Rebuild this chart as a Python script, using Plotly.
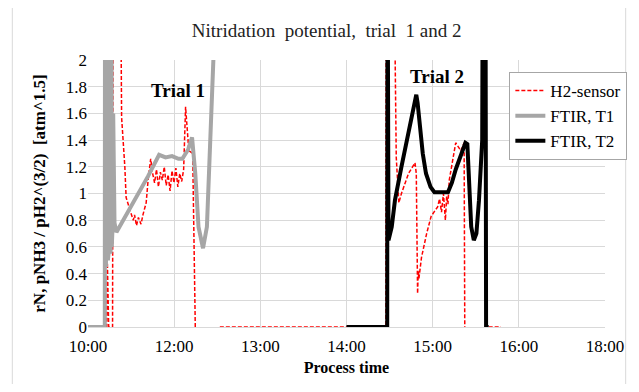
import plotly.graph_objects as go

# Time axis in hours (as placed on the chart's equal-spaced axis)
tick_hours = [10, 10 + 4/3, 10 + 8/3, 14, 10 + 16/3, 10 + 20/3, 18]
tick_labels = ["10:00", "12:00", "13:00", "14:00", "15:00", "16:00", "18:00"]

# H2-sensor (red dashed); values above 2 are off scale, None = gap
h2_x = [10.00, 10.29, 10.30, 10.32, 10.38, 10.39, 10.50, 10.52, 10.57, 10.59, 10.65,
        10.70, 10.72, 10.75, 10.78, 10.82, 10.85, 10.90, 10.93, 10.97, 11.00,
        11.03, 11.06, 11.09, 11.12, 11.15, 11.18, 11.21, 11.24, 11.27, 11.30,
        11.33, 11.36, 11.39, 11.42, 11.45, 11.48, 11.51, 11.56, 11.62, 11.66,
        11.67, 12.04, 14.61, 14.615, 14.73, 14.77, 14.81, 14.85, 14.96, 15.06,
        15.08, 15.10, 15.11, 15.12, 15.16, 15.24, 15.31, 15.41, 15.44, 15.47,
        15.50, 15.53, 15.55, 15.57, 15.59, 15.69, 15.77, 15.82, 15.83, 15.84,
        16.20, 16.39]
h2_y = [0.00, 0.00, 0.48, 0.00, 0.00, 3.00, 3.00, 1.57, 1.20, 0.97, 0.875,
        0.80, 0.84, 0.76, 0.82, 0.77, 0.84, 0.93, 1.10, 1.26, 1.15,
        1.08, 1.18, 1.05, 1.16, 1.10, 1.20, 1.06, 1.14, 1.02, 1.17,
        1.08, 1.19, 1.05, 1.15, 1.09, 1.18, 1.65, 1.32, 1.30, 0.00,
        None, 0.00, 0.00, 3.00, 3.00, 1.27, 0.93, 1.00, 1.15, 1.23,
        1.15, 0.25, 0.42, 0.36, 0.52, 0.70, 0.83, 0.90, 0.96, 0.86,
        1.00, 0.80, 0.98, 0.92, 1.10, 1.38, 1.32, 1.38, 0.00, None,
        0.00, 0.00]

# FTIR, trial 1 (grey)
t1_x = [10.00, 10.26, 10.263, 10.268, 10.273, 10.278, 10.283, 10.288, 10.293,
        10.298, 10.303, 10.308, 10.313, 10.318, 10.323, 10.328, 10.333, 10.338,
        10.343, 10.348, 10.353, 10.358, 10.363, 10.368, 10.373, 10.38, 10.39,
        10.41, 10.44, 10.70, 10.93, 11.10, 11.20, 11.30, 11.40, 11.46, 11.55,
        11.61, 11.66, 11.71, 11.78, 11.84, 11.89, 11.94, 11.97]
t1_y = [0.00, 0.00, 2.50, 0.50, 2.50, 0.45, 2.50, 0.55, 2.50, 0.60, 2.50,
        0.50, 2.50, 0.55, 2.50, 0.60, 2.50, 0.65, 2.50, 0.55, 2.50, 0.70,
        2.50, 0.60, 2.30, 0.75, 1.60, 0.78, 0.71, 0.93, 1.13, 1.29, 1.27,
        1.28, 1.26, 1.26, 1.33, 1.42, 1.15, 0.75, 0.59, 0.75, 1.33, 2.00, 2.50]

# FTIR, trial 2 (black)
t2_x = [14.00, 14.63, 14.635, 14.65, 14.70, 14.75, 14.85, 14.96, 15.03, 15.06,
        15.08, 15.10, 15.13, 15.18, 15.23, 15.30, 15.36, 15.45, 15.57, 15.63,
        15.69, 15.78, 15.84, 15.87, 15.90, 15.93, 15.97, 16.01, 16.05, 16.10,
        16.11, 16.12, 16.13, 16.14, 16.15, 16.16, 16.20]
t2_y = [0.00, 0.00, 3.00, 0.65, 0.75, 0.95, 1.20, 1.45, 1.62, 1.70, 1.74,
        1.68, 1.52, 1.30, 1.15, 1.05, 1.01, 1.01, 1.01, 1.08, 1.18, 1.30,
        1.38, 1.37, 1.03, 0.75, 0.65, 0.70, 0.95, 1.40, 3.00, 1.80, 3.00,
        2.00, 3.00, 0.00, 0.00]

serif = "Liberation Serif"

fig = go.Figure()
fig.add_trace(go.Scatter(x=h2_x, y=h2_y, mode="lines", name="H2-sensor",
                         line=dict(color="#ff0000", width=1.5, dash="4px,2px"),
                         connectgaps=False))
fig.add_trace(go.Scatter(x=t1_x, y=t1_y, mode="lines", name="FTIR, T1",
                         line=dict(color="#a6a6a6", width=4)))
fig.add_trace(go.Scatter(x=t2_x, y=t2_y, mode="lines", name="FTIR, T2",
                         line=dict(color="#000000", width=4)))

fig.add_annotation(x=11.40, y=1.77, text="<b>Trial 1</b>", showarrow=False,
                   font=dict(family=serif, size=19, color="black"))
fig.add_annotation(x=15.40, y=1.88, text="<b>Trial 2</b>", showarrow=False,
                   font=dict(family=serif, size=19, color="black"))

fig.add_shape(type="rect", xref="paper", yref="paper",
              x0=-0.1464, x1=1.04, y0=-0.2186, y1=1.1988,
              line=dict(color="#d9d9d9", width=1), layer="below")

fig.update_layout(
    width=631, height=376,
    margin=dict(l=80, r=25, t=52, b=57),
    paper_bgcolor="white", plot_bgcolor="white",
    font=dict(family=serif, size=16, color="black"),
    title=dict(text="Nitridation  potential,  trial  1 and 2", x=0.505, xanchor="center",
               y=0.9415, yanchor="middle", font=dict(family=serif, size=19, color="#222")),
    xaxis=dict(range=[10, 18], tickmode="array", tickvals=tick_hours, ticktext=tick_labels,
               showgrid=True, gridcolor="#d9d9d9", gridwidth=1, zeroline=False,
               showline=True, linecolor="#d9d9d9", ticks="", ticklabelstandoff=4,
               automargin=False,
               title=dict(text="<b>Process time</b>", font=dict(family=serif, size=16), standoff=6),
               tickfont=dict(family=serif, size=17)),
    yaxis=dict(range=[0, 2], dtick=0.2, showgrid=True, gridcolor="#d9d9d9", gridwidth=1,
               zeroline=False, showline=False, ticks="", automargin=False,
               title=dict(text="<b>rN, pNH3 / pH2^(3/2)  [atm^1.5]</b>",
                          font=dict(family=serif, size=17), standoff=15),
               tickfont=dict(family=serif, size=17)),
    legend=dict(x=0.815, y=0.955, xanchor="left", yanchor="top",
                bordercolor="#a6a6a6", borderwidth=1, bgcolor="white",
                font=dict(family=serif, size=17)),
    showlegend=True,
)

fig.write_html("out.html")
